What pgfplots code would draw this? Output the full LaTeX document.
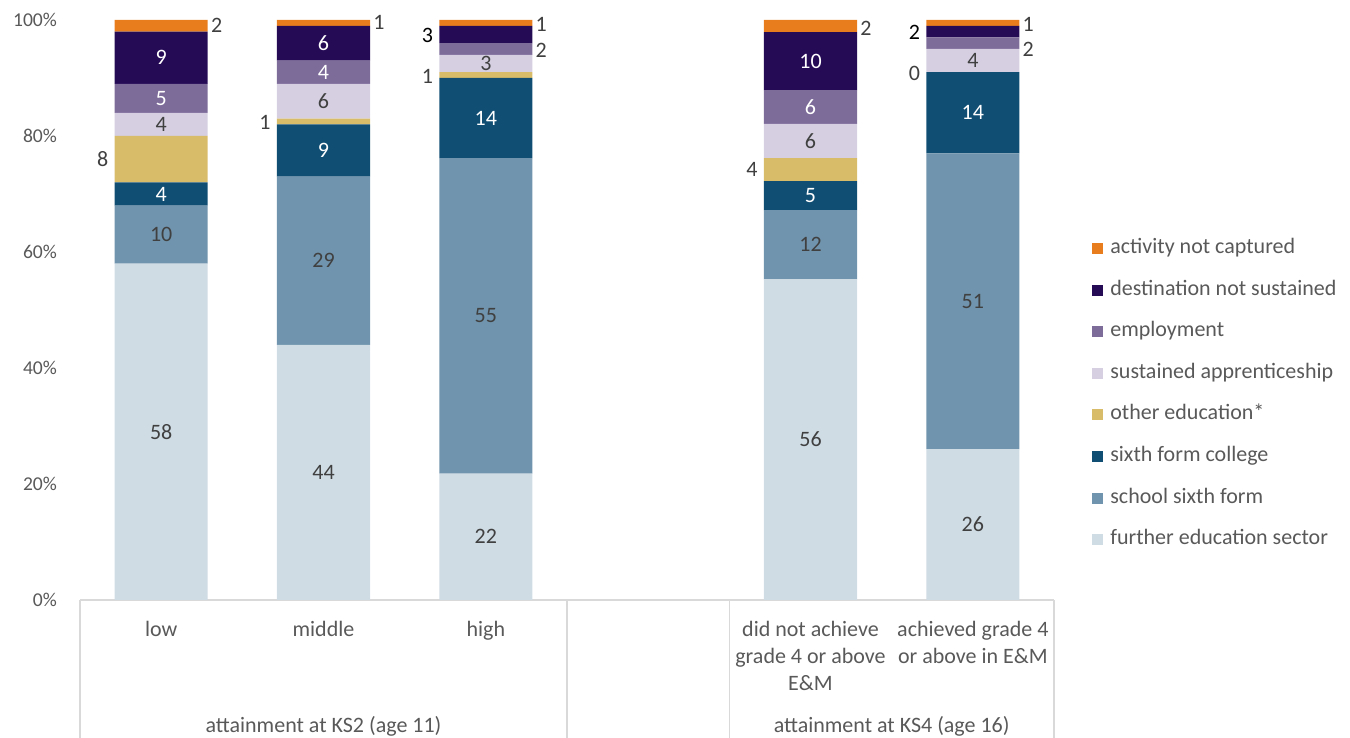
\documentclass[border=0pt]{standalone}
\usepackage{fontspec}
\setmainfont{Carlito}
\usepackage{pgfplots}
\pgfplotsset{compat=1.18}

\definecolor{cact}{HTML}{E87D1E}
\definecolor{cdns}{HTML}{250A56}
\definecolor{cemp}{HTML}{7D6B9A}
\definecolor{capp}{HTML}{D5CFE1}
\definecolor{coth}{HTML}{D9BC69}
\definecolor{csfc}{HTML}{114E73}
\definecolor{cssf}{HTML}{7094AD}
\definecolor{cfes}{HTML}{CFDCE4}
\definecolor{txt}{HTML}{595959}
\definecolor{lab}{HTML}{404040}
\definecolor{sep}{HTML}{D9D9D9}

\begin{document}
\begin{tikzpicture}[font=\fontsize{11}{13.5}\selectfont,
  lbl/.style={text=lab, inner sep=0pt, anchor=east, xshift=-3pt},
  rbl/.style={text=lab, inner sep=0pt, anchor=west, xshift=1.5pt}]
\useasboundingbox (-40pt,-69pt) rectangle (635pt,300pt);
\begin{axis}[
  at={(0,0)}, anchor=south west,
  scale only axis, width=487pt, height=290pt,
  ybar stacked, bar width=0.573,
  xmin=-0.5, xmax=5.5, ymin=0, ymax=100,
  clip=false,
  axis x line*=bottom, axis y line*=left,
  x axis line style={draw=sep, line width=0.6pt},
  y axis line style={draw=none},
  major tick length=0pt,
  xtick={0,1,2,4,5},
  xticklabels={low, middle, high, {did not achieve\\grade 4 or above\\E\&M}, {achieved grade 4\\or above in E\&M}},
  xticklabel style={align=center, anchor=north, text=txt, yshift=-7pt},
  ytick={0,20,40,60,80,100},
  yticklabels={0\%,20\%,40\%,60\%,80\%,100\%},
  yticklabel style={text=txt, xshift=-8pt, font=\fontsize{9.8}{12}\selectfont},
  point meta=explicit symbolic,
  nodes near coords,
  every node near coord/.append style={anchor=center, text=lab, inner sep=0pt},
  legend image code/.code={\fill[#1] (0pt,-2.75pt) rectangle (5.5pt,2.75pt); \path (7pt,0pt);},
  reverse legend,
  legend cell align=left,
  legend style={at={(1.0328,0.355)}, anchor=west, draw=none, fill=none, text=txt,
    row sep=7.8pt, nodes={text height=7pt, text depth=2pt, inner sep=2pt}},
]
% further education sector
\addplot[fill=cfes, draw=none] coordinates {
  (0,58) [58] (1,44) [44] (2,21.8) [22] (4,55.3) [56] (5,26) [26]
};
% school sixth form
\addplot[fill=cssf, draw=none] coordinates {
  (0,10) [10] (1,29) [29] (2,54.4) [55] (4,11.9) [12] (5,51) [51]
};
% sixth form college
\addplot[fill=csfc, draw=none, every node near coord/.append style={text=white}] coordinates {
  (0,4) [4] (1,9) [9] (2,13.8) [14] (4,5) [5] (5,14) [14]
};
% other education
\addplot[fill=coth, draw=none] coordinates {
  (0,8) [] (1,1) [] (2,1) [] (4,4) [] (5,0) []
};
% sustained apprenticeship
\addplot[fill=capp, draw=none] coordinates {
  (0,4) [4] (1,6) [6] (2,3) [3] (4,5.9) [6] (5,4) [4]
};
% employment
\addplot[fill=cemp, draw=none, every node near coord/.append style={text=white}] coordinates {
  (0,5) [5] (1,4) [4] (2,2) [] (4,5.8) [6] (5,2) []
};
% destination not sustained
\addplot[fill=cdns, draw=none, every node near coord/.append style={text=white}] coordinates {
  (0,9) [9] (1,6) [6] (2,3) [] (4,10) [10] (5,2) []
};
% activity not captured
\addplot[fill=cact, draw=none] coordinates {
  (0,2) [] (1,1) [] (2,1) [] (4,2.1) [] (5,1) []
};
\legend{further education sector, school sixth form, sixth form college,
  other education*, sustained apprenticeship, employment,
  destination not sustained, activity not captured}

% labels outside the bars
\node[lbl] at (axis cs:-0.2865,76) {8};
\node[rbl] at (axis cs:0.2865,99) {2};
\node[lbl] at (axis cs:0.7135,82.4) {1};
\node[rbl] at (axis cs:1.2865,99.5) {1};
\node[lbl] at (axis cs:1.7135,90.3) {1};
\node[lbl, text=black] at (axis cs:1.7135,97.4) {3};
\node[rbl] at (axis cs:2.2865,94.8) {2};
\node[rbl] at (axis cs:2.2865,99.3) {1};
\node[lbl] at (axis cs:3.7135,74.2) {4};
\node[rbl] at (axis cs:4.2865,98.5) {2};
\node[lbl] at (axis cs:4.7135,90.7) {0};
\node[lbl, text=black] at (axis cs:4.7135,97.8) {2};
\node[rbl] at (axis cs:5.2865,95) {2};
\node[rbl] at (axis cs:5.2865,99.3) {1};

% category box
\draw[sep, line width=0.6pt] (axis cs:-0.5,0) -- ++(0pt,-69pt);
\draw[sep, line width=0.6pt] (axis cs:2.5,0) -- ++(0pt,-69pt);
\draw[sep, line width=0.6pt] (axis cs:3.5,0) -- ++(0pt,-69pt);
\draw[sep, line width=0.6pt] (axis cs:5.5,0) -- ++(0pt,-69pt);
\node[text=txt] at (axis cs:1,0) [yshift=-63pt] {attainment at KS2 (age 11)};
\node[text=txt] at (axis cs:4.5,0) [yshift=-63pt] {attainment at KS4 (age 16)};
\end{axis}
\end{tikzpicture}
\end{document}
